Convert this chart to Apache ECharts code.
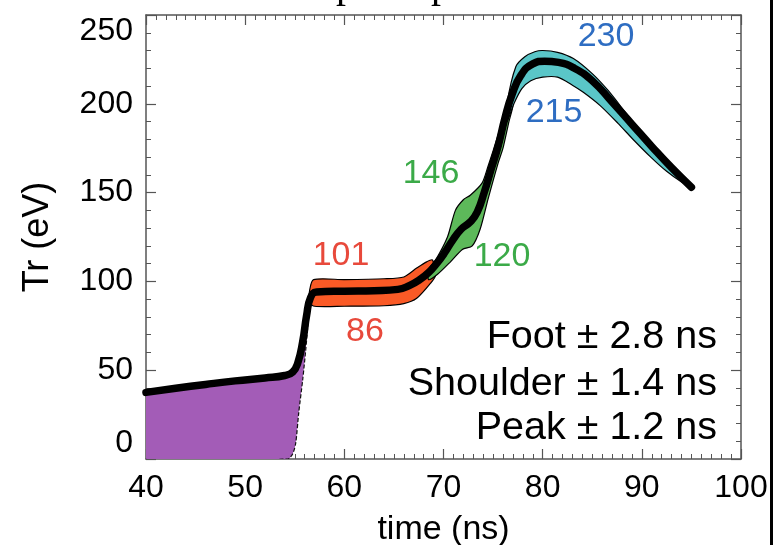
<!DOCTYPE html>
<html>
<head>
<meta charset="utf-8">
<script src="https://cdn.jsdelivr.net/npm/echarts@6/dist/echarts.min.js"></script>
<style>
  html, body { margin: 0; padding: 0; background: #fff; }
  #chart { width: 781px; height: 545px; }
</style>
</head>
<body>
<div id="chart"></div>
<script>
// Axis ranges and tick steps
const timeRange = [40, 100];
const timeStep = 10;
const trRange = [0, 250];
const trStep = 50;

// Band extremes quoted in the annotations (eV)
const FOOT_HI = 101, FOOT_LO = 86;
const SHOULDER_HI = 146, SHOULDER_LO = 120;
const PEAK_HI = 230, PEAK_LO = 215;

// Best-fit radiation temperature Tr(t): [time ns, Tr eV]
const trBest = [
  [40, 37.5], [43, 39.8], [46, 42], [49, 44], [52, 45.6], [54, 47],
  [54.8, 49], [55.3, 54], [55.8, 66], [56.2, 81], [56.6, 91],
  [57.2, 94], [60, 94.5], [63, 94.8], [65.4, 95.5], [66.6, 97.8],
  [67.6, 101], [68.5, 105], [69.3, 110], [70.1, 116], [70.9, 123],
  [71.8, 129.5], [72.7, 133.5], [73.4, 139], [74.1, 150], [74.8, 163],
  [75.5, 176], [76.2, 192], [76.9, 205], [77.8, 216], [79, 222.5],
  [80.2, 224], [81.6, 223.3], [83.2, 220], [85, 213], [87, 201],
  [89, 188.5], [91, 176], [93, 164], [95, 153]
];

// Foot uncertainty (purple): upper edge follows the best fit, lower edge
const footEarlyUpper = trBest.filter(p => p[0] <= 56.6);
const footEarlyLower = [
  [40, 0], [54.3, 0], [54.8, 3], [55.1, 9], [55.4, 26], [55.8, 44.5],
  [56.1, 61], [56.4, 80], [56.6, 91]
];

// Foot plateau uncertainty (orange)
const footUpper = [
  [56.5, 95], [56.9, FOOT_HI], [60, FOOT_HI], [64, FOOT_HI + 0.5],
  [66, 102.5], [67.3, 107.5], [68.3, 111], [68.9, 112]
];
const footLower = [
  [56.5, 88], [57, FOOT_LO], [60, FOOT_LO], [64, FOOT_LO + 0.3],
  [66, 87.5], [67.3, 90.5], [68.7, 99], [69.2, 103.5]
];

// Shoulder uncertainty (green)
const shoulderUpper = [
  [68.5, 107], [69.2, 112], [70.4, 125], [71.2, 140], [72, SHOULDER_HI],
  [72.7, 148.5], [73.9, 155.5], [74.5, 165], [75, 173.5], [75.8, 188],
  [76.6, 204], [77, 210]
];
const shoulderLower = [
  [68.5, 101], [69.4, 104], [70.7, 111], [71.9, 118], [72.9, SHOULDER_LO],
  [73.7, 129.5], [74.5, 146.5], [75.5, 166.5], [76, 175], [76.6, 190],
  [77, 199]
];

// Peak uncertainty (cyan)
const peakUpper = [
  [76.4, 200], [77.3, 221], [78.2, 226.5], [79.2, 229.3], [80, PEAK_HI],
  [81.5, 229], [83.1, 225.5], [85, 217], [86.6, 207.5], [88.3, 195.5],
  [89.9, 184], [91.6, 173], [93.2, 162.5], [94.5, 156], [95.2, 153]
];
const peakLower = [
  [76.4, 190], [77.1, 200], [77.9, 208.5], [78.8, 213], [80, PEAK_LO],
  [81.5, PEAK_LO], [83, 210.5], [84.1, 206.5], [85.8, 199], [87.6, 189],
  [89.2, 179.5], [90.9, 170], [92.5, 162], [94, 156], [95.2, 152.5]
];

// Timing uncertainties per pulse phase
const phases = ['Foot', 'Shoulder', 'Peak'];
const timingErr = [2.8, 1.4, 1.2];

const FONT = '"Liberation Sans", Arial, Helvetica, sans-serif';
const RED = '#E8493B', GREEN = '#3BAA48', BLUE = '#2E6DC2';

const bands = [
  { upper: footEarlyUpper, lower: footEarlyLower, fill: '#A35CB7', stroke: '#111', dash: [4, 2] },
  { upper: footUpper, lower: footLower, fill: '#FA5A26', stroke: '#000', dash: null },
  { upper: shoulderUpper, lower: shoulderLower, fill: '#5DB95A', stroke: '#000', dash: null },
  { upper: peakUpper, lower: peakLower, fill: '#5AC6C8', stroke: '#000', dash: null }
];

function bandSeries(band) {
  return {
    type: 'custom',
    xAxisIndex: 0,
    yAxisIndex: 0,
    clip: true,
    silent: true,
    z: 2,
    data: [band.upper[0]],
    renderItem: function (params, api) {
      const ring = band.upper.concat(band.lower.slice().reverse());
      const pts = ring.map(p => api.coord(p));
      return {
        type: 'polygon',
        shape: { points: pts, smooth: 0.25 },
        style: {
          fill: band.fill,
          stroke: band.stroke,
          lineWidth: 1.2,
          lineDash: band.dash
        }
      };
    }
  };
}

function axisCommon(isX) {
  return {
    type: 'value',
    min: isX ? timeRange[0] : trRange[0],
    max: isX ? timeRange[1] : trRange[1],
    interval: isX ? timeStep : trStep,
    axisLine: { show: true, onZero: false, lineStyle: { color: '#555', width: 1.5 } },
    axisTick: { show: true, inside: true, length: 10, lineStyle: { color: '#555', width: 1.2 } },
    minorTick: { show: true, splitNumber: isX ? 10 : 5, length: 5, lineStyle: { color: '#555', width: 1 } },
    splitLine: { show: false },
    minorSplitLine: { show: false }
  };
}

const chart = echarts.init(document.getElementById('chart'), null, { renderer: 'canvas' });

const labelFont = '34px ' + FONT;
const bandLabels = [
  { text: String(FOOT_HI), x: 341, y: 256, color: RED },
  { text: String(FOOT_LO), x: 365, y: 332, color: RED },
  { text: String(SHOULDER_HI), x: 431, y: 174, color: GREEN },
  { text: String(SHOULDER_LO), x: 502, y: 257, color: GREEN },
  { text: String(PEAK_HI), x: 606, y: 37, color: BLUE },
  { text: String(PEAK_LO), x: 554, y: 113, color: BLUE }
];
const timingY = [337, 384, 428];

const graphics = [];
bandLabels.forEach(l => graphics.push({
  type: 'text', silent: true, z: 10,
  style: { text: l.text, x: l.x, y: l.y, fill: l.color, font: labelFont, textAlign: 'center', textVerticalAlign: 'middle' }
}));
phases.forEach((ph, i) => graphics.push({
  type: 'text', silent: true, z: 10,
  style: { text: ph + ' \u00B1 ' + timingErr[i].toFixed(1) + ' ns', x: 717, y: timingY[i], fill: '#000', font: '39.5px ' + FONT, textAlign: 'right', textVerticalAlign: 'middle' }
}));
// Page edge: heading descenders above the frame and the rule at right
const serif = '40px "Liberation Serif", "Times New Roman", serif';
graphics.push({ type: 'text', silent: true, style: { text: 'p', x: 336, y: 6, fill: '#000', font: serif, textAlign: 'left', textVerticalAlign: 'bottom' } });
graphics.push({ type: 'text', silent: true, style: { text: 'p', x: 431, y: 6, fill: '#000', font: serif, textAlign: 'left', textVerticalAlign: 'bottom' } });
graphics.push({ type: 'rect', silent: true, z: 20, shape: { x: 770, y: 0, width: 3, height: 545 }, style: { fill: '#000' } });

const option = {
  backgroundColor: '#fff',
  animation: false,
  grid: { left: 146, right: 40, top: 15, bottom: 86, containLabel: false, outerBoundsMode: 'none' },
  xAxis: [
    Object.assign(axisCommon(true), {
      position: 'bottom',
      axisLabel: { show: true, fontSize: 32, fontFamily: FONT, color: '#000', margin: 13 },
      name: 'time (ns)',
      nameLocation: 'middle',
      nameGap: 54,
      nameTextStyle: { fontSize: 34, fontFamily: FONT, color: '#000' }
    }),
    Object.assign(axisCommon(true), {
      position: 'top',
      axisLabel: { show: false }
    })
  ],
  yAxis: [
    Object.assign(axisCommon(false), {
      position: 'left',
      axisLabel: {
        show: true, fontSize: 32, fontFamily: FONT, color: '#000', margin: 13,
        verticalAlignMinLabel: 'bottom', verticalAlignMaxLabel: 'top'
      },
      name: 'Tr (eV)',
      nameLocation: 'middle',
      nameGap: 90,
      nameRotate: 90,
      nameTextStyle: { fontSize: 36, fontFamily: FONT, color: '#000' }
    }),
    Object.assign(axisCommon(false), {
      position: 'right',
      axisLabel: { show: false }
    })
  ],
  series: bands.map(bandSeries).concat([
    {
      type: 'line',
      xAxisIndex: 0,
      yAxisIndex: 0,
      data: trBest,
      smooth: 0.5,
      showSymbol: false,
      symbol: 'none',
      silent: true,
      z: 5,
      lineStyle: { color: '#000', width: 7.5, cap: 'round', join: 'round' }
    }
  ]),
  graphic: graphics
};

chart.setOption(option);
</script>
</body>
</html>
